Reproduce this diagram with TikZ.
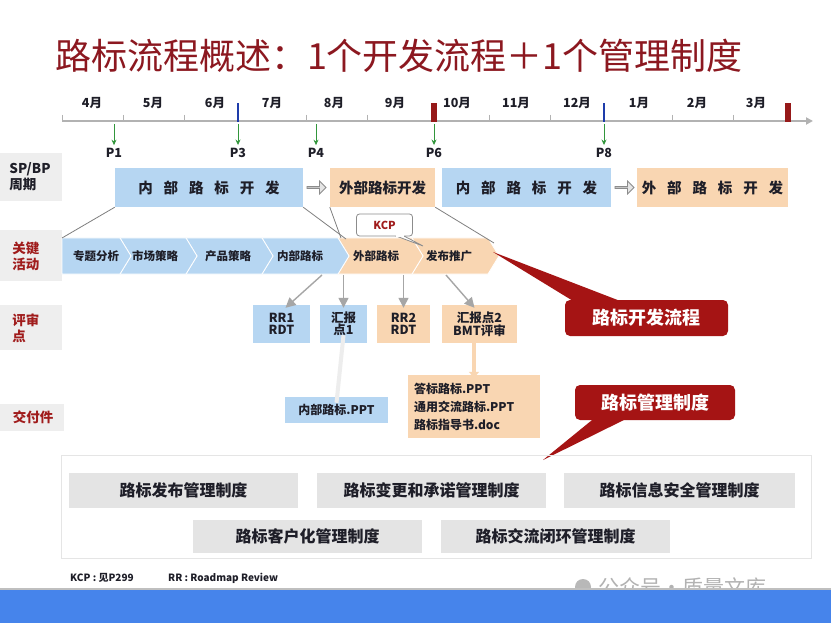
\documentclass[tikz,border=0pt]{standalone}
\usepackage{fontspec}
\setmainfont{Noto Sans CJK SC}
\usetikzlibrary{arrows.meta,shapes.arrows,calc}
\definecolor{cblue}{RGB}{182,214,242}
\definecolor{corange}{RGB}{249,214,178}
\definecolor{ctitle}{RGB}{140,24,32}
\definecolor{cred}{RGB}{160,28,28}
\definecolor{cdark}{RGB}{165,20,20}
\definecolor{cmark}{RGB}{150,25,25}
\definecolor{cbluemark}{RGB}{30,60,170}
\definecolor{cgreen}{RGB}{50,150,60}
\definecolor{cside}{RGB}{238,238,238}
\definecolor{cmgmt}{RGB}{228,228,228}
\definecolor{cbar}{RGB}{70,132,235}
\definecolor{ctext}{RGB}{30,30,40}
\newcommand{\spc}{\hspace{0.75em}}
\newcommand{\chevr}[6]{% name, xl, xr, notch(0/1), colour, text x
  \ifnum#4=1
    \fill[#5,draw=white,line width=0.8pt] (#2,238) -- (#3,238) -- (#3+11,256) -- (#3,274) -- (#2,274) -- (#2+11,256) -- cycle;
  \else
    \fill[#5,draw=white,line width=0.8pt] (#2,238) -- (#3,238) -- (#3+11,256) -- (#3,274) -- (#2,274) -- cycle;
  \fi
}
\begin{document}
\begin{tikzpicture}[x=1pt,y=-1pt,
  title/.style={font=\fontsize{36}{40}\selectfont, text=ctitle, inner sep=0},
  month/.style={font=\bfseries\fontsize{12.5}{14}\selectfont, text=ctext, inner sep=0},
  plabel/.style={font=\bfseries\fontsize{12.5}{14}\selectfont, text=ctext, inner sep=0},
  axisline/.style={line width=2.2pt, draw=black!30, -{Triangle[length=7pt,width=7pt]}},
  tickline/.style={line width=0.8pt, draw=black!30},
  greenarr/.style={line width=0.9pt, draw=cgreen, -{Stealth[length=5.5pt,width=5pt]}},
  sidebox/.style={fill=cside},
  sidelbl/.style={font=\bfseries\fontsize{13.5}{16}\selectfont, align=left, inner sep=0},
  bigbox/.style={minimum height=39pt, inner sep=0, font=\bfseries\fontsize{14.5}{16}\selectfont, text=ctext},
  hollow/.style={single arrow, draw=black!45, fill=black!10, line width=0.8pt, minimum height=19pt, minimum width=13pt, single arrow head extend=2.5pt, inner sep=0},
  trap/.style={draw=black!50, line width=0.8pt},
  chevtxt/.style={font=\bfseries\fontsize{11.5}{13}\selectfont, text=ctext, inner sep=0},
  revbox/.style={minimum height=38pt, inner sep=0, font=\bfseries\fontsize{12.5}{13}\selectfont, text=ctext, align=center},
  revarr/.style={draw=black!35, line width=1.4pt, -{Triangle[length=10pt,width=10pt]}},
  delbox/.style={inner sep=0, font=\bfseries\fontsize{12}{18}\selectfont, text=ctext, align=left},
  callout/.style={fill=cdark, rounded corners=5pt, inner sep=0, font=\bfseries\fontsize{18}{20}\selectfont, text=white},
  mgmt/.style={fill=cmgmt, inner sep=0, font=\bfseries\fontsize{16}{18}\selectfont, text=ctext},
  foot/.style={font=\bfseries\fontsize{10}{12}\selectfont, text=ctext, inner sep=0, anchor=west}
]
\useasboundingbox (0,0) rectangle (831,623);
\fill[white] (0,0) rectangle (831,623);

% title
\node[title] (title) at (399,56) {路标流程概述：1个开发流程＋1个管理制度};

% timeline
\coordinate (axs) at (62,121);
\coordinate (axe) at (813,121);
\draw[axisline] (axs) -- (axe);
\foreach \x in {62,123,184,306,367,489,550,672,733}
  \draw[tickline] (\x,115) -- (\x,121);
\foreach \m/\x in {4月/92,5月/153,6月/215,7月/272,8月/334,9月/395,10月/457,11月/516,12月/577,1月/639,2月/697,3月/756}
  \node[month] at (\x,103) {\m};
\fill[cmark] (431,103) rectangle (437,122);
\fill[cmark] (785,103) rectangle (791,122);
\fill[cbluemark] (237.2,103) rectangle (239.2,122);
\fill[cbluemark] (603.2,103) rectangle (605.2,122);
\foreach \n/\x in {P1/114,P3/238,P4/316,P6/434,P8/604} {
  \coordinate (t\n) at (\x,124);
  \node[plabel] (\n) at (\x,153) {\n};
  \draw[greenarr] (t\n) -- ([yshift=3pt]\n.north);
}

% side labels
\fill[sidebox] (0,153) rectangle (62,201);
\node[sidelbl, text=ctext] (lsp) at (30,177) {SP/BP\\周期};
\fill[sidebox] (0,230) rectangle (62,281);
\node[sidelbl, text=cred] (lkey) at (26,256) {关键\\活动};
\fill[sidebox] (0,305) rectangle (62,350);
\node[sidelbl, text=cred] (lrev) at (26,328) {评审\\点};
\fill[sidebox] (0,404) rectangle (64,431);
\node[sidelbl, text=cred] (ldel) at (33,417) {交付件};

% row 1
\node[bigbox, fill=cblue, minimum width=188pt] (ib1) at (209,187.5) {内\spc 部\spc 路\spc 标\spc 开\spc 发};
\node[hollow] (ha1) at (316,187.5) {};
\node[bigbox, fill=corange, minimum width=105pt] (eb1) at (382.5,187.5) {外部路标开发};
\node[bigbox, fill=cblue, minimum width=169pt] (ib2) at (526.5,187.5) {内\spc 部\spc 路\spc 标\spc 开\spc 发};
\node[hollow] (ha2) at (624,187.5) {};
\node[bigbox, fill=corange, minimum width=151pt] (eb2) at (712.5,187.5) {外\spc 部\spc 路\spc 标\spc 开\spc 发};

% chevrons
\chevr{c6}{412}{488}{1}{corange}{}
\chevr{c5}{338}{412}{1}{corange}{}
\chevr{c4}{262}{338}{1}{cblue}{}
\chevr{c3}{186}{262}{1}{cblue}{}
\chevr{c2}{120}{186}{1}{cblue}{}
\chevr{c1}{62}{120}{0}{cblue}{}
\node[chevtxt] (k1) at (96,256) {专题分析};
\node[chevtxt] (k2) at (155,256) {市场策略};
\node[chevtxt] (k3) at (228,256) {产品策略};
\node[chevtxt] (k4) at (300,256) {内部路标};
\node[chevtxt] (k5) at (376,256) {外部路标};
\node[chevtxt] (k6) at (449,256) {发布推广};

% trapezoid lines
\coordinate (tl1) at (62,238);
\coordinate (tr1) at (346,239);
\coordinate (tl2) at (341,238);
\coordinate (tr2) at (494,243);
\draw[trap] (ib1.south west) -- (tl1);
\draw[trap] (ib1.south east) -- (tr1);
\draw[trap] (eb1.south west) -- (tl2);
\draw[trap] (eb1.south east) -- (tr2);

% KCP callout
\coordinate (kcptip) at (423,246);
\filldraw[draw=black!45, fill=white, line width=0.8pt] (396,236) -- (kcptip) -- (404,236) -- cycle;
\node[draw=black!45, fill=white, line width=0.8pt, rounded corners=3pt, minimum width=56pt, minimum height=22pt, inner sep=0, font=\bfseries\fontsize{11}{12}\selectfont, text=cred] (kcp) at (384.5,225) {KCP};
\fill[white] (396.4,235) -- (403.6,235) -- (403.6,236.6) -- (396.4,236.6) -- cycle;

% review boxes
\node[revbox, fill=cblue, minimum width=57pt] (rr1) at (281.5,324) {RR1\\[-1pt]RDT};
\node[revbox, fill=cblue, minimum width=47pt] (hb1) at (343.5,324) {汇报\\[-1pt]点1};
\node[revbox, fill=corange, minimum width=53pt] (rr2) at (403.5,324) {RR2\\[-1pt]RDT};
\node[revbox, fill=corange, minimum width=75pt] (hb2) at (479.5,324) {汇报点2\\[0pt]BMT评审};
\coordinate (a1) at (322,275);
\coordinate (a2) at (343.5,275);
\coordinate (a3) at (403.5,275);
\coordinate (a4) at (446,275);
\draw[revarr] (a1) -- ([xshift=4pt,yshift=-3pt]rr1.north);
\draw[revarr] (a2) -- ([yshift=-3pt]hb1.north);
\draw[revarr] (a3) -- ([yshift=-3pt]rr2.north);
\draw[revarr] (a4) -- ([xshift=-5pt,yshift=-3pt]hb2.north);

% deliverables
\node[delbox, fill=cblue, minimum width=103pt, minimum height=26pt, align=center] (d1) at (336.5,410) {内部路标.PPT};
\node[delbox, fill=corange, minimum width=132pt, minimum height=63pt, text width=120pt] (d2) at (474,406.5) {答标路标.PPT\\通用交流路标.PPT\\路标指导书.doc};
\draw[draw=black!7, line width=4pt] ([yshift=8pt]hb1.south) -- ([yshift=-6pt]d1.north);
\draw[draw=corange, line width=4pt, -{Triangle[length=6pt,width=10pt]}] ([yshift=7pt]hb2.south-|d2.north) -- ([yshift=-3pt]d2.north);

% callouts
\coordinate (co1tip) at (493,252);
\fill[cdark] (co1tip) -- (578,304) -- (628,304) -- cycle;
\node[callout, minimum width=163pt, minimum height=36pt] (co1) at (646.5,318) {路标开发流程};
\coordinate (co2tip) at (543,460);
\fill[cdark] (co2tip) -- (597,416) -- (632,416) -- cycle;
\node[callout, minimum width=160pt, minimum height=35pt] (co2) at (655,402.5) {路标管理制度};

% management panel
\draw[draw=black!10, line width=0.8pt] (61,455) rectangle (811,558);
\node[mgmt, minimum width=229pt, minimum height=35pt] (m1) at (183.5,490.5) {路标发布管理制度};
\node[mgmt, minimum width=229pt, minimum height=35pt] (m2) at (431.5,490.5) {路标变更和承诺管理制度};
\node[mgmt, minimum width=231pt, minimum height=35pt] (m3) at (679.5,490.5) {路标信息安全管理制度};
\node[mgmt, minimum width=229pt, minimum height=33pt] (m4) at (307.5,536.5) {路标客户化管理制度};
\node[mgmt, minimum width=229pt, minimum height=33pt] (m5) at (555.5,536.5) {路标交流闭环管理制度};

% footer
\node[foot] (f1) at (70,578) {KCP : 见P299};
\node[foot] (f2) at (168,578) {RR : Roadmap Review};
\node[font=\fontsize{21}{22}\selectfont, text=black!30, inner sep=0, anchor=west] (wm) at (598,587) {公众号・质量文库};
\fill[black!28] (583,587) circle (8pt);
\fill[black!25] (0,587.5) rectangle (831,589.5);
\fill[cbar] (0,589.5) rectangle (831,623);
\end{tikzpicture}
\end{document}
